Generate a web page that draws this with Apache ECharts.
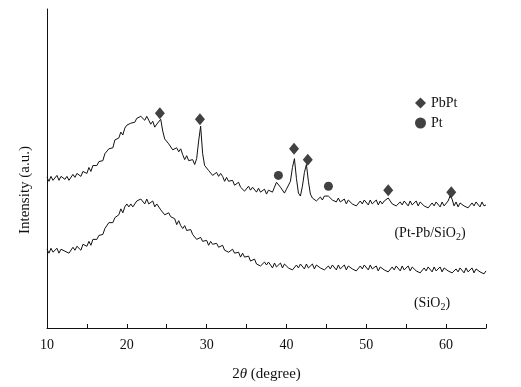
<!DOCTYPE html>
<html>
<head>
<meta charset="utf-8">
<script src="https://cdn.jsdelivr.net/npm/echarts@6/dist/echarts.min.js"></script>
<style>
html,body{margin:0;padding:0;background:#fff;}
#chart{width:521px;height:387px;}
</style>
</head>
<body>
<div id="chart"></div>
<script>
// 2θ sampling: start 10°, step 0.25°, one row per degree (x.00, x.25, x.50, x.75)
const twoThetaStart = 10;
const twoThetaStep = 0.25;

// Pt-Pb/SiO2 pattern (a.u.)
const ptPbSiO2 = [
  153,149,154,150, 151,155,150,154, 155,151,154,150, 152,156,153,157,
  157,154,159,157, 157,163,159,165, 167,165,169,167, 170,177,176,182,
  184,183,191,190, 193,199,196,203, 206,204,208,206, 209,213,211,215,
  215,211,215,211, 207,210,204,207, 208,212,200,192, 193,187,187,181,
  179,183,179,182, 176,171,175,170, 168,171,166,172, 190,205,177,165,
  165,160,160,155, 155,158,154,157, 154,149,153,149, 147,150,145,147,
  148,143,144,139, 140,144,140,143, 142,138,142,138, 137,141,136,140,
  141,138,143,148, 147,143,141,137, 141,139,149,163, 172,152,137,134,
  144,158,166,149, 136,132,133,129, 129,133,130,134, 135,134,135,130,
  132,128,132,128, 127,131,126,130, 130,126,128,124, 125,129,126,130,
  129,125,130,126, 126,130,125,129, 126,129,131,132, 130,126,128,124,
  124,128,125,129, 128,124,129,125, 125,129,124,128, 128,124,126,122,
  123,127,124,128, 127,123,128,124, 126,129,134,131, 124,128,123,127,
  128,124,126,122, 123,127,124,128, 127,123,128,124, 125
];

// SiO2 pattern (a.u.)
const sio2 = [
  80,76,81,77, 77,81,76,80, 82,78,80,76, 78,82,79,83,
  83,79,85,83, 83,88,84,90, 92,90,94,92, 95,101,101,107,
  109,107,112,110, 115,121,117,123, 126,123,126,123, 125,129,127,131,
  131,126,131,126, 126,129,123,126, 125,120,120,115, 114,117,113,115,
  111,105,109,104, 101,104,99,100, 100,95,95,90, 89,92,88,90,
  89,84,88,85, 83,86,82,84, 84,79,81,77, 76,80,76,78,
  77,72,76,72, 70,73,68,69, 70,65,67,63, 63,67,64,67,
  66,61,66,62, 62,66,61,65, 65,61,63,59, 60,64,61,65,
  64,60,65,61, 61,65,60,64, 65,61,63,59, 59,63,60,64,
  63,59,64,60, 60,64,59,63, 64,60,62,58, 59,63,60,64,
  63,59,64,60, 59,63,58,62, 63,59,61,57, 58,62,59,63,
  62,58,63,59, 59,63,58,62, 62,58,60,56, 57,61,58,62,
  61,57,62,58, 58,62,57,61, 62,58,60,56, 56,60,57,61,
  60,56,61,57, 57,61,56,60, 61,57,59,55, 58
];

// Phase markers
const pbptPos = [24.14, 29.16, 40.95, 42.67, 52.75, 60.65];
const pbptVal = [218, 212, 182, 171, 140, 138];
const ptPos = [38.99, 45.26];
const ptVal = [155, 144];

const xTicks = [10, 20, 30, 40, 50, 60];

const toPairs = arr => arr.map((v, i) => [twoThetaStart + i * twoThetaStep, v]);
const zip = (a, b) => a.map((x, i) => [x, b[i]]);

const FONT = '"Liberation Serif", "Times New Roman", serif';
const INK = '#111111';

const chart = echarts.init(document.getElementById('chart'), null, {renderer: 'canvas'});
chart.setOption({
  animation: false,
  backgroundColor: '#fff',
  grid: {left: 47, right: 35, top: 9, bottom: 54},
  xAxis: {
    type: 'value', min: 10, max: 65, interval: 5,
    axisLine: {show: true, lineStyle: {color: INK, width: 1}},
    axisTick: {show: true, inside: true, length: 4, lineStyle: {color: INK}},
    splitLine: {show: false},
    axisLabel: {
      fontFamily: FONT, fontSize: 14, color: INK, margin: 10,
      formatter: v => xTicks.indexOf(v) >= 0 ? String(v) : ''
    },
    name: '{n|2}{i|θ}{n| (degree)}',
    nameLocation: 'middle', nameGap: 39,
    nameTextStyle: {
      rich: {
        n: {fontFamily: FONT, fontSize: 15, color: INK},
        i: {fontFamily: FONT, fontSize: 15, color: INK, fontStyle: 'italic'}
      }
    }
  },
  yAxis: {
    type: 'value', min: 0, max: 324,
    axisLine: {show: true, lineStyle: {color: INK, width: 1}},
    axisTick: {show: false},
    axisLabel: {show: false},
    splitLine: {show: false}
  },
  legend: {
    data: ['PbPt', 'Pt'],
    orient: 'vertical', left: 410, top: 91,
    itemWidth: 11, itemHeight: 11, itemGap: 6,
    textStyle: {fontFamily: FONT, fontSize: 14, color: INK}
  },
  series: [
    {
      name: 'Pt-Pb/SiO2', type: 'line', data: toPairs(ptPbSiO2),
      showSymbol: false, lineStyle: {color: INK, width: 1}, itemStyle: {color: INK}
    },
    {
      name: 'SiO2', type: 'line', data: toPairs(sio2),
      showSymbol: false, lineStyle: {color: INK, width: 1}, itemStyle: {color: INK}
    },
    {
      name: 'PbPt', type: 'scatter', data: zip(pbptPos, pbptVal),
      symbol: 'diamond', symbolSize: [10, 12], itemStyle: {color: INK}
    },
    {
      name: 'Pt', type: 'scatter', data: zip(ptPos, ptVal),
      symbol: 'circle', symbolSize: 9, itemStyle: {color: INK}
    }
  ],
  graphic: [
    {
      type: 'text', x: 25, y: 190, rotation: Math.PI / 2,
      style: {text: 'Intensity (a.u.)', fontFamily: FONT, fontSize: 15, fill: INK,
              align: 'center', verticalAlign: 'middle'}
    },
    {
      type: 'text', x: 430, y: 233,
      style: {
        text: '{n|(Pt-Pb/SiO}{s|2}{n|)}',
        align: 'center', verticalAlign: 'middle',
        rich: {
          n: {fontFamily: FONT, fontSize: 14, fill: INK, color: INK},
          s: {fontFamily: FONT, fontSize: 10, fill: INK, color: INK, padding: [8, 0, 0, 0]}
        }
      }
    },
    {
      type: 'text', x: 432, y: 303,
      style: {
        text: '{n|(SiO}{s|2}{n|)}',
        align: 'center', verticalAlign: 'middle',
        rich: {
          n: {fontFamily: FONT, fontSize: 14, fill: INK, color: INK},
          s: {fontFamily: FONT, fontSize: 10, fill: INK, color: INK, padding: [8, 0, 0, 0]}
        }
      }
    }
  ]
});
</script>
</body>
</html>
